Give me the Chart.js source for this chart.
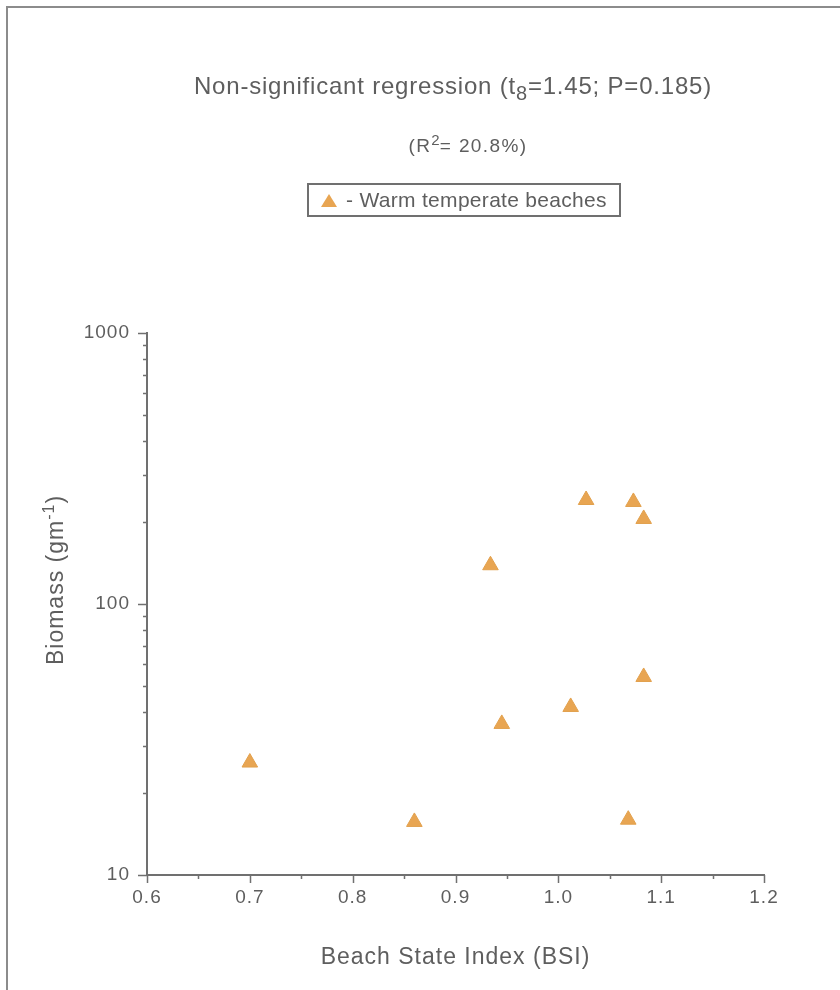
<!DOCTYPE html>
<html><head><meta charset="utf-8">
<script src="https://cdn.jsdelivr.net/npm/chart.js@4.4.1/dist/chart.umd.min.js"></script>
<style>
html,body{margin:0;padding:0;background:#fff;}
#wrap{position:relative;width:840px;height:990px;overflow:hidden;font-family:"Liberation Sans",Arial,sans-serif;color:#5e5e5e;}
#frame{position:absolute;left:6px;top:6px;width:900px;height:1100px;border-left:2px solid #8c8c8c;border-top:2px solid #8c8c8c;}
canvas{position:absolute;left:0;top:0;}
.t{position:absolute;white-space:nowrap;line-height:1;transform:translateX(-50%);}
#title{left:453px;top:74px;font-size:24px;letter-spacing:0.8px;}
#title sub{font-size:20px;vertical-align:-6px;line-height:0;}
#sub{left:468px;top:136px;font-size:19px;letter-spacing:1.4px;}
#sub sup{font-size:15px;vertical-align:7px;line-height:0;letter-spacing:0;}
#legend{position:absolute;left:307px;top:183px;width:310px;height:30px;border:2px solid #707070;display:flex;align-items:center;font-size:21px;letter-spacing:0.3px;white-space:nowrap;}
#legend .mk{width:0;height:0;border-left:8px solid transparent;border-right:8px solid transparent;border-bottom:13px solid #E8A552;margin:0 9px 0 12px;}
#ytitle{position:absolute;left:55px;top:580px;font-size:23px;letter-spacing:1px;line-height:1;white-space:nowrap;transform:translate(-50%,-50%) rotate(-90deg);}
#ytitle sup{font-size:16px;vertical-align:9px;line-height:0;}
</style></head>
<body>
<div id="wrap">
  <canvas id="c" width="840" height="990"></canvas>
  <div id="frame"></div>
  <div class="t" id="title">Non-significant regression (t<sub>8</sub>=1.45; P=0.185)</div>
  <div class="t" id="sub">(R<sup>2</sup>= 20.8%)</div>
  <div id="legend"><span class="mk"></span><span>- Warm temperate beaches</span></div>
  <div id="ytitle">Biomass (gm<sup>-1</sup>)</div>
</div>
<script>
// ---- data ----
const seriesName = 'Warm temperate beaches';
const bsi     = [0.70, 0.86, 0.934, 0.945, 1.012, 1.027, 1.073, 1.083, 1.083, 1.068];
const biomass = [26,   15.7, 139,   36.1,  41.7,  242,   238,   206,   53.8,  16.0];

const xTickValues = [0.6, 0.65, 0.7, 0.75, 0.8, 0.85, 0.9, 0.95, 1.0, 1.05, 1.1, 1.15, 1.2];
const xTickLabels = ['0.6', '', '0.7', '', '0.8', '', '0.9', '', '1.0', '', '1.1', '', '1.2'];
const yTickValues = [10, 20, 30, 40, 50, 60, 70, 80, 90, 100, 200, 300, 400, 500, 600, 700, 800, 900, 1000];
const yTickLabels = ['10', '', '', '', '', '', '', '', '', '100', '', '', '', '', '', '', '', '', '1000'];

const xTitle = 'Beach State Index (BSI)';

// ---- chart ----
const TEXT = '#5e5e5e', AXIS = '#707070';
Chart.defaults.font.family = '"Liberation Sans", Arial, sans-serif';
Chart.defaults.color = TEXT;

const tickPlugin = {
  id: 'tickMarks',
  beforeDraw(chart) { chart.ctx.letterSpacing = '1px'; },
  afterDraw(chart) {
    const ctx = chart.ctx, xs = chart.scales.x, ys = chart.scales.y;
    ctx.save();
    ctx.strokeStyle = AXIS; ctx.lineWidth = 1.5;
    ctx.beginPath();
    xs.ticks.forEach((t, i) => {
      const px = Math.round(xs.getPixelForValue(t.value)) + 0.5;
      const len = xTickLabels[i] ? 8 : 4;
      ctx.moveTo(px, xs.top); ctx.lineTo(px, xs.top + len);
    });
    ys.ticks.forEach((t, i) => {
      const py = Math.round(ys.getPixelForValue(t.value)) + 0.5;
      const len = yTickLabels[i] ? 9 : 4;
      ctx.moveTo(ys.right, py); ctx.lineTo(ys.right - len, py);
    });
    ctx.stroke();
    ctx.restore();
  }
};

new Chart(document.getElementById('c'), {
  type: 'scatter',
  data: {
    datasets: [{
      label: seriesName,
      data: bsi.map((x, i) => ({x, y: biomass[i]})),
      pointStyle: 'triangle',
      pointRadius: 9,
      pointHoverRadius: 9,
      backgroundColor: '#E8A552',
      borderColor: '#E2A04C',
      borderWidth: 1
    }]
  },
  options: {
    responsive: false,
    animation: false,
    devicePixelRatio: 1,
    layout: { padding: { top: 333, right: 76, left: 0, bottom: 0 } },
    plugins: { legend: { display: false }, tooltip: { enabled: false } },
    scales: {
      x: {
        type: 'linear', min: 0.6, max: 1.2,
        afterBuildTicks: s => { s.ticks = xTickValues.map(v => ({ value: v })); },
        afterFit: s => { s.height = 115; },
        ticks: { autoSkip: false, maxRotation: 0, padding: 3, font: { size: 19 }, color: TEXT,
                 callback: (v, i) => xTickLabels[i] },
        grid: { display: false },
        border: { display: true, color: AXIS, width: 2 },
        title: { display: true, text: xTitle, color: TEXT, font: { size: 23 }, padding: { top: 0, bottom: 19 } }
      },
      y: {
        type: 'logarithmic', min: 10, max: 1000,
        afterBuildTicks: s => { s.ticks = yTickValues.map(v => ({ value: v })); },
        afterFit: s => { s.width = 147; },
        ticks: { autoSkip: false, padding: 9, font: { size: 19 }, color: TEXT,
                 callback: (v, i) => yTickLabels[i] },
        grid: { display: false },
        border: { display: true, color: AXIS, width: 2 }
      }
    }
  },
  plugins: [tickPlugin]
});
</script>
</body></html>
